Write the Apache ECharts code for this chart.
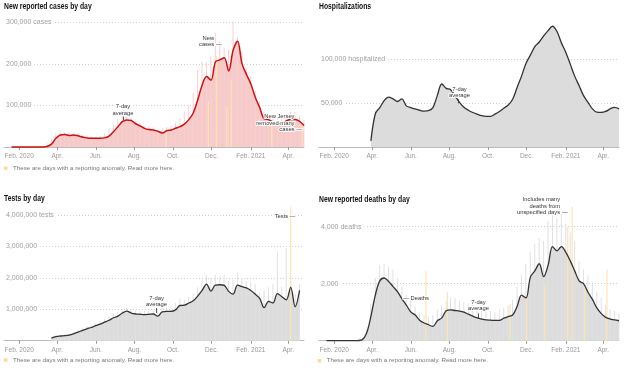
<!DOCTYPE html>
<html>
<head>
<meta charset="utf-8">
<script src="https://cdn.jsdelivr.net/npm/echarts@6/dist/echarts.min.js"></script>
<style>
html,body{margin:0;padding:0;background:#fff;}
#c{width:624px;height:370px;}
</style>
</head>
<body>
<div id="c"></div>
<script>
// ---------- DATA ----------
const weekDates = ['2020-01-20','2020-01-27','2020-02-03','2020-02-10','2020-02-17','2020-02-24','2020-03-02','2020-03-09','2020-03-16','2020-03-23',
'2020-03-30','2020-04-06','2020-04-13','2020-04-20','2020-04-27','2020-05-04','2020-05-11','2020-05-18','2020-05-25','2020-06-01',
'2020-06-08','2020-06-15','2020-06-22','2020-06-29','2020-07-06','2020-07-13','2020-07-20','2020-07-27','2020-08-03','2020-08-10',
'2020-08-17','2020-08-24','2020-08-31','2020-09-07','2020-09-14','2020-09-21','2020-09-28','2020-10-05','2020-10-12','2020-10-19',
'2020-10-26','2020-11-02','2020-11-09','2020-11-16','2020-11-23','2020-11-30','2020-12-07','2020-12-14','2020-12-21','2020-12-28',
'2021-01-04','2021-01-11','2021-01-18','2021-01-25','2021-02-01','2021-02-08','2021-02-15','2021-02-22','2021-03-01','2021-03-08',
'2021-03-15','2021-03-22','2021-03-29','2021-04-05','2021-04-12','2021-04-19','2021-04-26'];

const casesAvg = [0,0,0,0,0,0,50,150,1200,7000,
21000,29000,30000,28000,29000,27000,24000,22000,21000,21000,
21000,22000,26000,37000,49000,61000,65000,64000,56000,51000,
45000,42000,41000,38000,34000,39000,41000,45000,49000,55000,
66000,82000,113000,149000,170000,161000,205000,210000,215000,183000,
233000,255000,201000,175000,152000,120000,95000,68000,66000,60000,
56000,57000,63000,66000,66000,62000,52000];
const casesPeak = [0,0,0,0,0,0,100,500,9000,19000,
33000,35000,35000,36000,34000,33000,30000,28000,25000,25000,
27000,33000,45000,57000,68000,77000,74000,70000,62000,58000,
50000,50000,47000,40000,46000,48000,52000,59000,70000,85000,
100000,130000,185000,205000,205000,220000,275000,255000,240000,235000,
300000,265000,230000,190000,170000,135000,110000,85000,80000,75000,
70000,75000,80000,85000,85000,75000,65000];
const casesAnomDates = ['2020-09-20','2020-11-26','2020-12-09','2020-12-25','2021-01-01','2021-03-06','2021-04-23'];
const casesAnomVals = [35000,110000,220000,100000,160000,60000,50000];

const hospAvg = [null,null,null,null,null,null,null,null,null,null,
7000,38000,45000,53000,57000,55000,52000,55000,47000,45000,
43500,42000,41000,41500,45000,59000,72000,67000,65500,58700,
51000,45400,42000,39400,37500,35800,35000,35000,37500,40500,
44300,48000,54600,68000,81000,95500,105000,114800,120000,127000,
133000,138000,132000,119000,108000,94700,81000,70000,58700,51000,
43600,39800,39500,40600,43600,45400,43600];

const testsAvg = [null,null,null,null,null,null,null,null,null,80000,
130000,150000,160000,180000,220000,270000,330000,380000,420000,480000,
530000,590000,650000,730000,780000,880000,940000,880000,850000,840000,
830000,840000,850000,780000,920000,930000,930000,980000,1120000,1130000,
1200000,1270000,1420000,1600000,1800000,1580000,1770000,1780000,1760000,1570000,
1480000,1770000,1720000,1680000,1600000,1480000,1350000,1050000,1250000,1200000,
1500000,1400000,1300000,1700000,1080000,1600000,null];
const testsPeak = [null,null,null,null,null,null,null,null,null,100000,
170000,190000,200000,230000,280000,330000,400000,450000,500000,560000,
620000,690000,770000,850000,920000,1000000,1050000,1000000,960000,960000,
950000,960000,980000,950000,1050000,1080000,1100000,1200000,1350000,1300000,
1400000,1500000,1700000,1950000,2100000,2000000,2100000,2050000,2100000,1900000,
1950000,2150000,2000000,1900000,1850000,1800000,1500000,1600000,1700000,1800000,
2850000,1700000,2950000,1900000,1500000,1800000,null];
const testsAnomDates = ['2021-04-05'];
const testsAnomVals = [4250000];

const deathsAvg = [0,0,0,0,0,0,0,5,30,250,
850,1600,2100,2200,2080,1900,1720,1470,1250,1010,
900,720,620,560,500,700,800,1050,1080,1060,
1040,1000,930,860,800,760,730,720,710,710,
790,850,900,1200,1600,1500,2230,2450,2700,2250,
2650,3300,3150,3300,3100,2800,2450,2100,2000,1700,
1450,1150,950,820,760,730,700];
const deathsPeak = [0,0,0,0,0,0,0,10,60,400,
1300,2200,2650,2700,2600,2500,2200,1900,1600,1500,
1200,1000,900,850,900,1100,1250,1400,1500,1500,
1400,1350,1300,1250,1200,1150,1100,1050,1000,1100,
1150,1250,1450,1900,2300,2700,3100,3400,3600,3500,
4200,4400,4300,4450,4100,3800,3500,2800,2500,2300,
2000,1700,1500,1250,1100,1050,950];
const deathsAnomDates = ['2020-06-25','2020-07-29','2020-11-05','2020-12-01','2020-12-30','2021-02-04','2021-02-11','2021-03-03','2021-04-07'];
const deathsAnomVals = [2450,1700,1300,1500,1950,4000,4700,1900,2500];

const xMin = '2020-01-08', xMax = '2021-04-26';
const xTickDates = ['2020-02-01','2020-04-01','2020-06-01','2020-08-01','2020-10-01','2020-12-01','2021-02-01','2021-04-01'];
const xTickLabels = ['Feb. 2020','Apr.','Jun.','Aug.','Oct.','Dec.','Feb. 2021','Apr.'];

const casesTicks = [100000,200000,300000];
const casesTickLabels = ['100,000','200,000','300,000 cases'];
const hospTicks = [50000,100000];
const hospTickLabels = ['50,000','100,000 hospitalized'];
const testsTicks = [1000000,2000000,3000000,4000000];
const testsTickLabels = ['1,000,000','2,000,000','3,000,000','4,000,000 tests'];
const deathsTicks = [2000,4000];
const deathsTickLabels = ['2,000','4,000 deaths'];

const titles = ['New reported cases by day','Hospitalizations','Tests by day','New reported deaths by day'];
const noteText = 'These are days with a reporting anomaly. Read more here.';

// ---------- BUILD ----------
const FONT = "'Liberation Sans', Arial, Helvetica, sans-serif";
const T = s => Date.parse(s + 'T00:00:00Z');
const tickMs = xTickDates.map(T);
const pairs = (dates, vals) => dates.map((d, i) => [T(d), vals[i] == null ? '-' : vals[i]]);

const grids = [
  {left: 4, top: 22.5, width: 300, height: 124.5},
  {left: 319, top: 59.5, width: 300, height: 87.5},
  {left: 4, top: 215, width: 300, height: 125.7},
  {left: 319, top: 226.7, width: 300, height: 114}
];

function makeX(k) {
  return {
    type: 'value', gridIndex: k, min: T(xMin), max: T(xMax), scale: true,
    axisLine: {show: true, lineStyle: {color: '#bbb', width: 1}},
    axisTick: {show: true, customValues: tickMs, length: 3, lineStyle: {color: '#999', width: 1}},
    axisLabel: {show: true, customValues: tickMs, hideOverlap: false,
      formatter: v => { const i = tickMs.indexOf(v); return i >= 0 ? xTickLabels[i] : ''; },
      fontSize: 6.5, color: '#999', margin: 6, fontFamily: FONT},
    splitLine: {show: false}
  };
}
function makeY(k, max, interval, ticks, labels) {
  return {
    type: 'value', gridIndex: k, min: 0, max: max, interval: interval,
    axisLine: {show: false}, axisTick: {show: false},
    axisLabel: {inside: true, customValues: ticks,
      formatter: v => { const i = ticks.indexOf(v); return i >= 0 ? labels[i] : ''; },
      fontSize: 7, color: '#a0a0a0', margin: 0, verticalAlign: 'middle', lineHeight: 8,
      padding: [0, 3, 6, 2], backgroundColor: '#fff', fontFamily: FONT},
    splitLine: {show: true, lineStyle: {color: '#cfcfcf', type: [1, 2], width: 1}}
  };
}
function areaS(k, data, color) {
  return {type: 'line', xAxisIndex: k, yAxisIndex: k, data: data, smooth: 0.35, symbol: 'none',
    lineStyle: {width: 0, opacity: 0}, areaStyle: {color: color, opacity: 1}, z: 1, clip: false, silent: true};
}
function barS(k, data, color, w, z) {
  return {type: 'bar', xAxisIndex: k, yAxisIndex: k, data: data, barWidth: w, barGap: '-100%',
    itemStyle: {color: color}, z: z, clip: false, silent: true};
}
// annotation: [date, value, text, align, dyPixels]
const annLabel = (text, align, dy) => ({
  show: true, position: 'inside', formatter: text, align: align, verticalAlign: 'middle',
  offset: [0, dy || 0],
  fontSize: 5.8, lineHeight: 6.2, color: '#333', fontFamily: FONT, fontWeight: 'normal',
  textBorderColor: '#fff', textBorderWidth: 2
});
function lineS(k, data, color, w, anns, ticks) {
  return {type: 'line', xAxisIndex: k, yAxisIndex: k, data: data, smooth: 0.35, symbol: 'none',
    lineStyle: {color: color, width: w}, z: 4, clip: false, silent: true,
    markPoint: {symbol: 'circle', symbolSize: 1, silent: true, itemStyle: {color: 'rgba(255,255,255,0)'},
      data: anns.map(a => ({coord: [T(a[0]), a[1]], label: annLabel(a[2], a[3], a[4])}))},
    markLine: {symbol: ['none', 'none'], silent: true, label: {show: false},
      lineStyle: {color: '#333', width: 0.8, type: 'solid'},
      data: ticks.map(t => [{coord: [T(t[0]), t[1]]}, {coord: [T(t[0]), t[2]]}])}
  };
}

const noteRich = {
  sq: {width: 3.5, height: 3.5, backgroundColor: '#fbdc96'},
  t: {fontSize: 6.2, color: '#777', fontWeight: 'normal', padding: [0, 0, 0, 5.5], fontFamily: FONT, lineHeight: 8}
};
const note = (left, top) => ({text: '{sq| }{t|' + noteText + '}', left: left, top: top, padding: 0,
  textStyle: {rich: noteRich, fontWeight: 'normal'}});

// Titles drawn as horizontally condensed text (reference uses a narrow face)
const titleText = (txt, x, y) => ({type: 'text', x: x, y: y, scaleX: 0.8, silent: true,
  style: {text: txt, font: "bold 8.5px 'Liberation Sans', Arial, sans-serif", fill: '#121212', verticalAlign: 'middle', align: 'left'}});

const option = {
  animation: false,
  backgroundColor: '#fff',
  textStyle: {fontFamily: FONT},
  title: [note(4, 164.3), note(4, 356), note(317.7, 356.7)],
  graphic: [titleText(titles[0], 4, 7), titleText(titles[1], 319, 7),
            titleText(titles[2], 4, 199), titleText(titles[3], 319, 200)],
  grid: grids,
  xAxis: [0, 1, 2, 3].map(makeX),
  yAxis: [
    makeY(0, 300000, 100000, casesTicks, casesTickLabels),
    makeY(1, 100000, 50000, hospTicks, hospTickLabels),
    makeY(2, 4000000, 1000000, testsTicks, testsTickLabels),
    makeY(3, 4000, 2000, deathsTicks, deathsTickLabels)
  ],
  series: [
    areaS(0, pairs(weekDates, casesAvg), '#f7caca'),
    barS(0, pairs(weekDates, casesPeak), '#f8cfcf', 1, 1),
    barS(0, pairs(casesAnomDates, casesAnomVals), '#fce5b3', 1.2, 2),
    lineS(0, pairs(weekDates, casesAvg), '#cc1111', 1.5,
      [['2020-07-14', 89200, '7-day\naverage', 'center'],
       ['2020-12-05', 254000, 'New\ncases', 'right'],
       ['2020-12-08', 247500, '\u2014', 'left'],
       ['2021-04-11', 57800, 'New Jersey\nremoved many\ncases', 'right'],
       ['2021-04-14', 43400, '\u2014', 'left']],
      [['2020-07-14', 65000, 73500]]),
    areaS(1, pairs(weekDates, hospAvg), '#dcdcdc'),
    lineS(1, pairs(weekDates, hospAvg), '#333', 1.3,
      [['2020-08-17', 62300, '7-day\naverage', 'center']],
      [['2020-08-15', 49900, 54500]]),
    areaS(2, pairs(weekDates, testsAvg), '#dcdcdc'),
    barS(2, pairs(weekDates, testsPeak), '#e0e0e0', 1, 1),
    barS(2, pairs(testsAnomDates, testsAnomVals), '#fce5b3', 1.2, 2),
    lineS(2, pairs(weekDates, testsAvg), '#333', 1.3,
      [['2020-09-05', 1254000, '7-day\naverage', 'center'],
       ['2021-04-01', 3946000, 'Tests', 'right'],
       ['2021-04-03', 3946000, '\u2014', 'left']],
      [['2020-09-05', 880000, 1040000]]),
    areaS(3, pairs(weekDates, deathsAvg), '#dcdcdc'),
    barS(3, pairs(weekDates, deathsPeak), '#e0e0e0', 1, 1),
    barS(3, pairs(deathsAnomDates, deathsAnomVals), '#fce5b3', 1.2, 2),
    lineS(3, pairs(weekDates, deathsAvg), '#333', 1.3,
      [['2020-05-20', 1488, '\u2014 Deaths', 'left'],
       ['2020-09-16', 1242, '7-day\naverage', 'center'],
       // anchored on the 4,000 line, lifted above the plot top
       ['2021-01-23', 4000, 'Includes many\ndeaths from\nunspecified days', 'right', -20.7],
       ['2021-01-26', 4000, '\u2014', 'left', -14.4]],
      [['2020-09-16', 786, 961]])
  ]
};

const chart = echarts.init(document.getElementById('c'), null, {renderer: 'canvas', width: 624, height: 370});
chart.setOption(option);
</script>
</body>
</html>
